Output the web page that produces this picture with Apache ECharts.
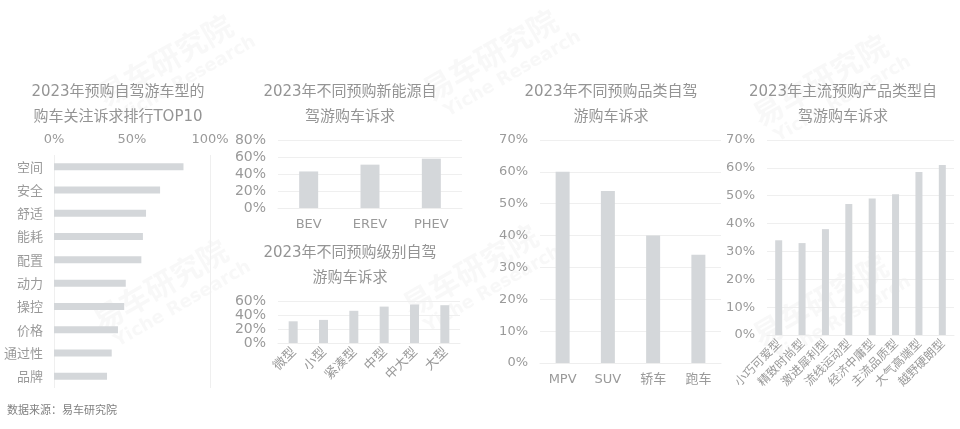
<!DOCTYPE html>
<html>
<head>
<meta charset="utf-8">
<script src="https://cdn.jsdelivr.net/npm/echarts@6/dist/echarts.min.js"></script>
<style>
html,body{margin:0;padding:0;background:#fff;}
#main{width:960px;height:429px;}
</style>
</head>
<body>
<div id="main"></div>
<script>
// ---- data ----
const c1Cats = ['空间','安全','舒适','能耗','配置','动力','操控','价格','通过性','品牌'];
const c1Vals = [83, 68, 59, 57, 56, 46, 45, 41, 37, 34];
const c2Cats = ['BEV','EREV','PHEV'];
const c2Vals = [43, 51, 58];
const c3Cats = ['微型','小型','紧凑型','中型','中大型','大型'];
const c3Vals = [31, 33, 46, 52, 55, 54];
const c4Cats = ['MPV','SUV','轿车','跑车'];
const c4Vals = [60, 54, 40, 34];
const c5Cats = ['小巧可爱型','精致时尚型','激进犀利型','流线运动型','经济中庸型','主流品质型','大气高端型','越野硬朗型'];
const c5Vals = [34, 33, 38, 47, 49, 50.5, 58.5, 61];
const titles = [
  ['2023年预购自驾游车型的','购车关注诉求排行TOP10'],
  ['2023年不同预购新能源自','驾游购车诉求'],
  ['2023年不同预购级别自驾','游购车诉求'],
  ['2023年不同预购品类自驾','游购车诉求'],
  ['2023年主流预购产品类型自','驾游购车诉求']
];
const sourceText = '数据来源：易车研究院';

const FONT = "'DejaVu Sans','Noto Sans CJK SC',sans-serif";
const CJK = "'Noto Sans CJK SC','DejaVu Sans',sans-serif";
const BAR = '#d4d7da';
const LBL = '#9a9a9a';
const GRIDC = '#efefef';

const chart = echarts.init(document.getElementById('main'), null, {renderer:'canvas'});

function titleText(lines, cx, y1){
  return lines.map((t,i)=>({
    type:'text', silent:true,
    style:{x:cx, y:y1 + i*25, text:t, fill:'#949494', font:'15px ' + FONT,
      textAlign:'center', textVerticalAlign:'middle'}
  }));
}
function watermark(cx, cy){
  return {
    type:'group', x:cx, y:cy, rotation: Math.PI/6, silent:true, z:100,
    children:[
      {type:'text', style:{x:0,y:0,text:'易车研究院',fill:'rgba(150,150,150,0.065)',font:'bold 30px '+CJK,textAlign:'center',textVerticalAlign:'middle'}},
      {type:'text', style:{x:10,y:28,text:'Yiche Research',fill:'rgba(150,150,150,0.065)',font:'bold 18px '+FONT,textAlign:'center',textVerticalAlign:'middle'}}
    ]
  };
}

const valAxisBase = {
  type:'value',
  axisLine:{show:false}, axisTick:{show:false},
  splitLine:{lineStyle:{color:GRIDC, width:1}},
  axisLabel:{color:LBL, fontSize:13, fontFamily:FONT, formatter:'{value}%', margin:12}
};
const catAxisBase = {
  type:'category',
  axisLine:{show:true, lineStyle:{color:'#eeeeee'}}, axisTick:{show:false},
  axisLabel:{color:LBL, fontSize:13, fontFamily:FONT, margin:10, interval:0}
};
const bigLbl = {color:LBL, fontSize:14, fontFamily:FONT, formatter:'{value}%', margin:12};

const option = {
  backgroundColor:'#fff',
  animation:false,
  grid:[
    {left:54, top:155, width:156, height:233},
    {left:278, top:140, width:184, height:68},
    {left:278, top:301, width:182, height:42},
    {left:540, top:140, width:181, height:223},
    {left:767, top:140, width:187, height:195}
  ],
  xAxis:[
    Object.assign({}, valAxisBase, {gridIndex:0, position:'top', min:0, max:100, interval:50,
      splitLine:{show:true, lineStyle:{color:[ '#efefef','rgba(0,0,0,0)','#efefef'], width:1}},
      axisLabel:{color:LBL, fontSize:13, fontFamily:FONT, formatter:'{value}%', margin:9}}),
    Object.assign({}, catAxisBase, {gridIndex:1, data:c2Cats}),
    Object.assign({}, catAxisBase, {gridIndex:2, data:c3Cats,
      axisLabel:{color:LBL, fontSize:13, fontFamily:CJK, rotate:45, margin:6, interval:0}}),
    Object.assign({}, catAxisBase, {gridIndex:3, data:c4Cats}),
    Object.assign({}, catAxisBase, {gridIndex:4, data:c5Cats,
      axisLabel:{color:LBL, fontSize:12, fontFamily:CJK, rotate:45, margin:6, interval:0}})
  ],
  yAxis:[
    {type:'category', gridIndex:0, data:c1Cats, inverse:true,
      axisLine:{show:false}, axisTick:{show:false},
      axisLabel:{color:LBL, fontSize:13, fontFamily:CJK, margin:11}},
    Object.assign({}, valAxisBase, {gridIndex:1, min:0, max:80, interval:20, axisLabel:bigLbl}),
    Object.assign({}, valAxisBase, {gridIndex:2, min:0, max:60, interval:20, axisLabel:bigLbl}),
    Object.assign({}, valAxisBase, {gridIndex:3, min:0, max:70, interval:10}),
    Object.assign({}, valAxisBase, {gridIndex:4, min:0, max:70, interval:10})
  ],
  series:[
    {type:'bar', xAxisIndex:0, yAxisIndex:0, data:c1Vals, barWidth:7, itemStyle:{color:BAR}},
    {type:'bar', xAxisIndex:1, yAxisIndex:1, data:c2Vals, barWidth:19, itemStyle:{color:BAR}},
    {type:'bar', xAxisIndex:2, yAxisIndex:2, data:c3Vals, barWidth:9, itemStyle:{color:BAR}},
    {type:'bar', xAxisIndex:3, yAxisIndex:3, data:c4Vals, barWidth:14, itemStyle:{color:BAR}},
    {type:'bar', xAxisIndex:4, yAxisIndex:4, data:c5Vals, barWidth:7, itemStyle:{color:BAR}}
  ],
  graphic:[].concat(
    titleText(titles[0], 118, 92),
    titleText(titles[1], 350, 92),
    titleText(titles[2], 350, 253),
    titleText(titles[3], 611, 92),
    titleText(titles[4], 843, 92),
    [{type:'text', silent:true, style:{x:7, y:410, text:sourceText, fill:'#808080', font:'11px '+CJK, textVerticalAlign:'middle'}}],
    [watermark(165,60), watermark(490,55), watermark(820,80), watermark(160,285), watermark(470,270), watermark(820,300)]
  )
};
chart.setOption(option);
</script>
</body>
</html>
